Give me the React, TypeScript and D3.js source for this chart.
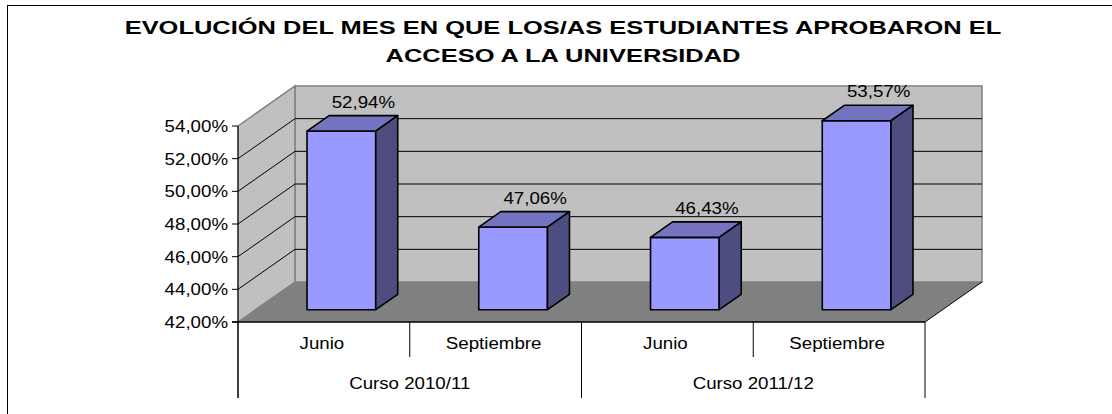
import React, { useEffect, useRef } from 'react';
import * as d3 from 'd3';

const titleLines = [
  'EVOLUCIÓN DEL MES EN QUE LOS/AS ESTUDIANTES APROBARON EL',
  'ACCESO A LA UNIVERSIDAD',
];
const categories = ['Junio', 'Septiembre', 'Junio', 'Septiembre'];
const groups = ['Curso 2010/11', 'Curso 2011/12'];
const values = [52.94, 47.06, 46.43, 53.57];
const yTicks = [42, 44, 46, 48, 50, 52, 54];

const FONT = '"Liberation Sans", Arial, sans-serif';

const App = () => {
  const ref = useRef<SVGSVGElement>(null);

  useEffect(() => {
    const svg = d3.select(ref.current);
    svg.selectAll('*').remove();

    const width = 1112, height = 414;
    const plot = { left: 238, right: 925, top: 126, bottom: 322 };
    const depth = { dx: 57, dy: -40 }; // oblique offset of the back wall
    const barDepth = 0.386;
    const fs = 17;
    const sx = 1.1; // text in the original is stretched horizontally

    const x = d3.scaleBand<number>()
      .domain(d3.range(categories.length))
      .range([plot.left, plot.right])
      .paddingInner(0.6)
      .paddingOuter(0.3);
    const xCat = d3.scaleBand<number>()
      .domain(d3.range(categories.length))
      .range([plot.left, plot.right]);
    const xGroup = d3.scaleBand<string>()
      .domain(groups)
      .range([plot.left, plot.right]);
    const y = d3.scaleLinear()
      .domain([yTicks[0], yTicks[yTicks.length - 1]])
      .range([plot.bottom, plot.top]);

    const locale = d3.formatLocale({ decimal: ',', thousands: '.', grouping: [3], currency: ['', '€'] });
    const fmt = locale.format('.2f');
    const pct = (v: number) => fmt(v) + '%';

    const pt = (px: number, py: number, d: number) => `${px + depth.dx * d},${py + depth.dy * d}`;

    const text = (g: any, px: number, py: number, str: string, size: number, anchor: string, scale: number, weight = 'normal') =>
      g.append('text')
        .attr('transform', `translate(${px},${py}) scale(${scale},1)`)
        .attr('text-anchor', anchor)
        .attr('font-family', FONT)
        .attr('font-size', size)
        .attr('font-weight', weight)
        .attr('fill', '#000')
        .text(str);

    // outer chart border (only top and left are inside the picture)
    svg.append('rect')
      .attr('x', 7.5).attr('y', 5.5)
      .attr('width', width + 20).attr('height', height + 20)
      .attr('fill', '#fff')
      .attr('stroke', '#000');

    // title
    const tg = svg.append('g');
    titleLines.forEach((t, i) => text(tg, 563, 34 + i * 28, t, 19, 'middle', 1.34, 'bold'));

    const y0 = y(yTicks[0]), y1 = y(yTicks[yTicks.length - 1]);

    // walls
    svg.append('polygon')
      .attr('points', [pt(plot.left, y1, 1), pt(plot.right, y1, 1), pt(plot.right, y0, 1), pt(plot.left, y0, 1)].join(' '))
      .attr('fill', '#c0c0c0').attr('stroke', '#808080').attr('stroke-width', 1.5);
    svg.append('polygon')
      .attr('points', [pt(plot.left, y1, 0), pt(plot.left, y1, 1), pt(plot.left, y0, 1), pt(plot.left, y0, 0)].join(' '))
      .attr('fill', '#c0c0c0').attr('stroke', '#808080').attr('stroke-width', 1.5);

    // gridlines
    const grid = svg.append('g').attr('stroke', '#000').attr('stroke-width', 1);
    yTicks.slice(1, -1).forEach(v => {
      grid.append('line')
        .attr('x1', plot.left + depth.dx).attr('y1', y(v) + depth.dy)
        .attr('x2', plot.right + depth.dx).attr('y2', y(v) + depth.dy);
      grid.append('line')
        .attr('x1', plot.left).attr('y1', y(v))
        .attr('x2', plot.left + depth.dx).attr('y2', y(v) + depth.dy);
    });

    // floor
    svg.append('polygon')
      .attr('points', [pt(plot.left, y0, 0), pt(plot.right, y0, 0), pt(plot.right, y0, 1), pt(plot.left, y0, 1)].join(' '))
      .attr('fill', '#808080');
    svg.append('line')
      .attr('x1', plot.right).attr('y1', y0)
      .attr('x2', plot.right + depth.dx).attr('y2', y0 + depth.dy)
      .attr('stroke', '#000');

    // bars
    const d0 = 0.5 - barDepth / 2, d1 = 0.5 + barDepth / 2;
    const bw = x.bandwidth();
    const bars = svg.append('g')
      .attr('stroke', '#000').attr('stroke-width', 1.6).attr('stroke-linejoin', 'round');
    values.forEach((v, i) => {
      const xa = x(i)!, xb = xa + bw, yt = y(v);
      bars.append('polygon')
        .attr('points', [pt(xa, yt, d0), pt(xb, yt, d0), pt(xb, y0, d0), pt(xa, y0, d0)].join(' '))
        .attr('fill', '#9999ff');
      bars.append('polygon')
        .attr('points', [pt(xa, yt, d0), pt(xb, yt, d0), pt(xb, yt, d1), pt(xa, yt, d1)].join(' '))
        .attr('fill', '#7373c0');
      bars.append('polygon')
        .attr('points', [pt(xb, yt, d0), pt(xb, yt, d1), pt(xb, y0, d1), pt(xb, y0, d0)].join(' '))
        .attr('fill', '#4d4d80');
    });

    // data labels
    const lg = svg.append('g');
    values.forEach((v, i) => {
      text(lg, x(i)! + bw / 2 + depth.dx * d1, y(v) + depth.dy * d1 - 8, pct(v), fs, 'middle', sx);
    });

    // value axis
    const ax = svg.append('g').attr('stroke', '#000').attr('stroke-width', 1);
    ax.append('line')
      .attr('x1', plot.left).attr('y1', y1)
      .attr('x2', plot.left).attr('y2', 398);
    yTicks.forEach(v => {
      ax.append('line')
        .attr('x1', plot.left - 6).attr('y1', y(v))
        .attr('x2', plot.left).attr('y2', y(v));
    });
    ax.append('line')
      .attr('x1', plot.left - 6).attr('y1', y0)
      .attr('x2', plot.right).attr('y2', y0)
      .attr('stroke-width', 1.5);

    const yl = svg.append('g');
    yTicks.forEach(v => text(yl, plot.left - 10, y(v) + 6, pct(v), fs, 'end', sx));

    // category axis: short ticks between months, long ticks between courses
    categories.forEach((c, i) => {
      const xs = xCat(i)!;
      const long = i % 2 === 0;
      ax.append('line')
        .attr('x1', xs).attr('y1', y0)
        .attr('x2', xs).attr('y2', long ? 398 : 357);
      text(yl, xs + xCat.bandwidth() / 2 - 2, 349, c, fs, 'middle', sx);
    });
    ax.append('line')
      .attr('x1', plot.right).attr('y1', y0)
      .attr('x2', plot.right).attr('y2', 398);
    groups.forEach(gname => {
      text(yl, xGroup(gname)! + xGroup.bandwidth() / 2, 389, gname, fs, 'middle', sx);
    });
  }, []);

  return (
    <svg ref={ref} width={1112} height={414} style={{ position: 'absolute', left: 0, top: 0 }}></svg>
  );
};

export default App;
